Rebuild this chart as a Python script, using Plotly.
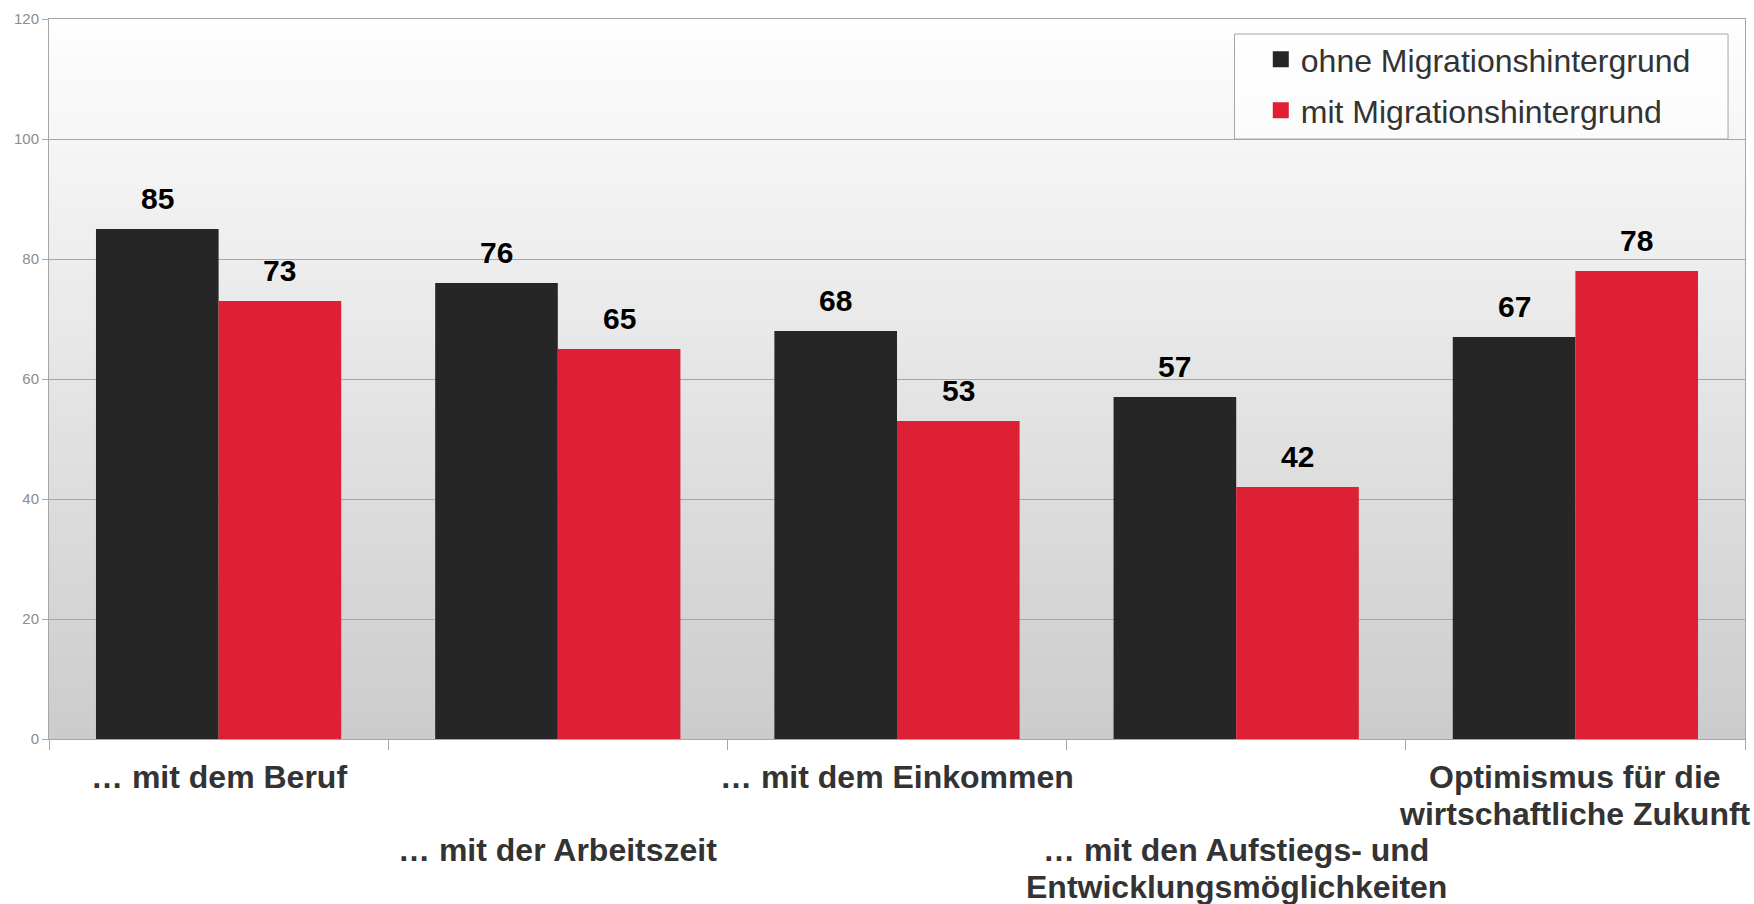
import plotly.graph_objects as go

categories = [
    "… mit dem Beruf",
    "… mit der Arbeitszeit",
    "… mit dem Einkommen",
    "… mit den Aufstiegs- und<br>Entwicklungsmöglichkeiten",
    "Optimismus für die<br>wirtschaftliche Zukunft",
]
ohne_values = [85, 76, 68, 57, 67]
mit_values = [73, 65, 53, 42, 78]
series_names = ["ohne Migrationshintergrund", "mit Migrationshintergrund"]
y_ticks = [0, 20, 40, 60, 80, 100, 120]

BLACK = "#262626"
RED = "#de2035"
GRID = "#a6a6a6"
FONT = "Liberation Sans, Arial, sans-serif"

W, H = 1754, 904
ML, MR, MT, MB = 49, 9, 19, 165
BARGAP = 0.277

fig = go.Figure()
series = [(series_names[0], ohne_values, BLACK), (series_names[1], mit_values, RED)]
for name, vals, col in series:
    fig.add_trace(go.Bar(
        x=categories, y=vals, name=name, marker=dict(color=col, line=dict(width=0)),
        showlegend=False, legendgroup=name, hoverinfo="x+y+name",
    ))
# legend entries (square markers)
for name, vals, col in series:
    fig.add_trace(go.Scatter(
        x=[None], y=[None], mode="markers", name=name, legendgroup=name,
        marker=dict(symbol="square", size=16, color=col, line=dict(width=0)),
    ))

# value labels above bars
plot_w = W - ML - MR
bar_w = plot_w / len(categories) * (1 - BARGAP) / 2
for s, (name, vals, col) in enumerate(series):
    for cat, v in zip(categories, vals):
        fig.add_annotation(x=cat, xref="x", y=v, yref="y", text=str(v), showarrow=False,
                           xshift=(s - 0.5) * bar_w, yshift=31, yanchor="middle",
                           font=dict(family=FONT, size=30, color="#000000", weight="bold"))

# gradient background of the plot area
n = 60
top, bot = 254, 204
for k in range(n):
    t = (k + 0.5) / n
    c = round(bot + (top - bot) * t)
    fig.add_shape(type="rect", xref="paper", yref="y", x0=0, x1=1,
                  y0=120 * k / n, y1=120 * (k + 1) / n,
                  fillcolor=f"rgb({c},{c},{c})", line=dict(width=0), layer="below")

# legend frame
fig.add_shape(type="rect", xref="paper", yref="y", x0=0.699, x1=0.990, y0=100, y1=117.5,
              fillcolor="rgba(255,255,255,0.6)", line=dict(color=GRID, width=1), layer="above")

# staggered category labels
row_offset = [0, 2, 0, 2, 0]
for i, cat in enumerate(categories):
    for j, line in enumerate(cat.split("<br>")):
        fig.add_annotation(x=cat, xref="x", y=0, yref="y", text=line, showarrow=False,
                           yanchor="middle", yshift=-(38 + 36.5 * (row_offset[i] + j)),
                           font=dict(family=FONT, size=32, color="#333333", weight="bold"))

fig.update_layout(
    width=W, height=H,
    margin=dict(l=ML, r=MR, t=MT, b=MB),
    paper_bgcolor="white", plot_bgcolor="rgba(0,0,0,0)",
    barmode="group", bargap=BARGAP, bargroupgap=0,
    showlegend=True,
    legend=dict(x=0.7145, y=0.982, xanchor="left", yanchor="top",
                bgcolor="rgba(0,0,0,0)", borderwidth=0,
                font=dict(family=FONT, size=32, color="#333333"),
                tracegroupgap=6.5, itemsizing="trace"),
    font=dict(family=FONT),
)
fig.update_xaxes(range=[-0.5, len(categories) - 0.5], showticklabels=False,
                 tickson="boundaries", ticks="outside", ticklen=10,
                 tickcolor=GRID, showline=True, linecolor=GRID, linewidth=1, mirror=True,
                 showgrid=False)
fig.update_yaxes(range=[0, 120], tickvals=y_ticks, ticks="outside", ticklen=6, tickcolor=GRID,
                 showline=True, linecolor=GRID, linewidth=1, mirror=True,
                 showgrid=True, gridcolor=GRID, gridwidth=1, zeroline=False,
                 tickfont=dict(family=FONT, size=15, color="#8c8c8c"))

fig.write_html("out.html", config={"displayModeBar": False},
               post_script="document.body.style.margin='0';")
